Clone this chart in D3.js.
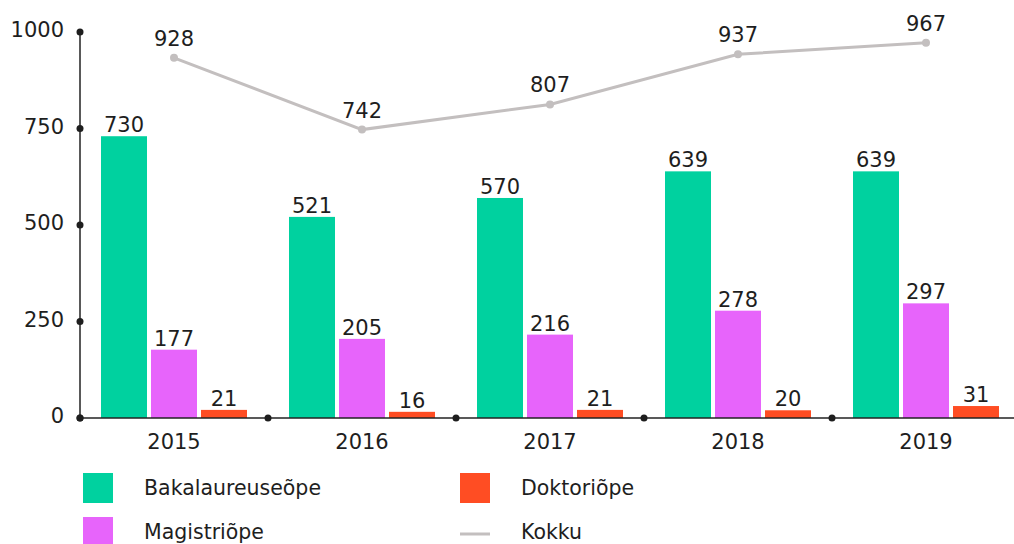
<!DOCTYPE html>
<html>
<head>
<meta charset="utf-8">
<script src="https://cdn.jsdelivr.net/npm/d3@7"></script>
<style>
  body { margin: 0; background: #fff; }
  text { font-family: "DejaVu Sans", sans-serif; fill: #1e1e1e; }
</style>
</head>
<body>
<svg width="1014" height="544"></svg>
<script>
var years = ["2015", "2016", "2017", "2018", "2019"];
var bakalaureus = [730, 521, 570, 639, 639];
var magister = [177, 205, 216, 278, 297];
var doktor = [21, 16, 21, 20, 31];
var kokku = [928, 742, 807, 937, 967];
var yTicks = [0, 250, 500, 750, 1000];

var seriesNames = ["Bakalaureuseõpe", "Magistriõpe", "Doktoriõpe"];
var colors = ["#00d19f", "#e764fb", "#ff4d23"];
var lineColor = "#c3bfbf";

var svg = d3.select("svg");

var x = d3.scaleBand()
  .domain(years)
  .range([80, 1020]);

var inner = d3.scaleBand()
  .domain([0, 1, 2])
  .range([21, x.bandwidth() - 21])
  .paddingInner(0.08);

var y = d3.scaleLinear()
  .domain([0, 1000])
  .range([418, 32]);

var rows = years.map(function (yr, i) {
  return { year: yr, values: [bakalaureus[i], magister[i], doktor[i]] };
});

// bars
var groups = svg.append("g").selectAll("g")
  .data(rows)
  .enter().append("g")
  .attr("transform", function (d) { return "translate(" + x(d.year) + ",0)"; });

groups.selectAll("rect")
  .data(function (d) { return d.values; })
  .enter().append("rect")
  .attr("x", function (d, i) { return inner(i); })
  .attr("y", function (d) { return y(d); })
  .attr("width", inner.bandwidth())
  .attr("height", function (d) { return y(0) - y(d); })
  .attr("fill", function (d, i) { return colors[i]; });

groups.selectAll("text")
  .data(function (d) { return d.values; })
  .enter().append("text")
  .attr("x", function (d, i) { return inner(i) + inner.bandwidth() / 2; })
  .attr("y", function (d) { return y(d) - 4; })
  .attr("text-anchor", "middle")
  .attr("font-size", 21)
  .text(function (d) { return d; });

// axes
var yAxis = svg.append("g");
yAxis.append("line")
  .attr("x1", 80).attr("x2", 80)
  .attr("y1", y(1000)).attr("y2", y(0))
  .attr("stroke", "#222").attr("stroke-width", 1.5);
yAxis.selectAll("circle")
  .data(yTicks)
  .enter().append("circle")
  .attr("cx", 80).attr("cy", function (d) { return y(d); })
  .attr("r", 3.5).attr("fill", "#1e1e1e");
yAxis.selectAll("text")
  .data(yTicks)
  .enter().append("text")
  .attr("x", 64).attr("y", function (d) { return y(d) + 5; })
  .attr("text-anchor", "end")
  .attr("font-size", 21)
  .text(function (d) { return d; });

var xAxis = svg.append("g");
xAxis.append("line")
  .attr("x1", 80).attr("x2", 1014)
  .attr("y1", y(0)).attr("y2", y(0))
  .attr("stroke", "#222").attr("stroke-width", 1.5);
xAxis.selectAll("circle")
  .data(years)
  .enter().append("circle")
  .attr("cx", function (d) { return x(d); }).attr("cy", y(0))
  .attr("r", 3.5).attr("fill", "#1e1e1e");
xAxis.selectAll("text")
  .data(years)
  .enter().append("text")
  .attr("x", function (d) { return x(d) + x.bandwidth() / 2; })
  .attr("y", 449)
  .attr("text-anchor", "middle")
  .attr("font-size", 21)
  .text(function (d) { return d; });

// total line
var cx = function (d, i) { return x(years[i]) + x.bandwidth() / 2; };
var line = d3.line()
  .x(cx)
  .y(function (d) { return y(d) - 2; });

svg.append("path")
  .datum(kokku)
  .attr("d", line)
  .attr("fill", "none")
  .attr("stroke", lineColor)
  .attr("stroke-width", 3);

svg.append("g").selectAll("circle")
  .data(kokku)
  .enter().append("circle")
  .attr("cx", cx)
  .attr("cy", function (d) { return y(d) - 2; })
  .attr("r", 4)
  .attr("fill", lineColor);

svg.append("g").selectAll("text")
  .data(kokku)
  .enter().append("text")
  .attr("x", cx)
  .attr("y", function (d) { return y(d) - 14; })
  .attr("text-anchor", "middle")
  .attr("font-size", 21)
  .text(function (d) { return d; });

// legend
var legendItems = [
  { name: seriesNames[0], color: colors[0], x: 83, y: 473, type: "rect" },
  { name: seriesNames[2], color: colors[2], x: 460, y: 473, type: "rect" },
  { name: seriesNames[1], color: colors[1], x: 83, y: 517, type: "rect" },
  { name: "Kokku", color: lineColor, x: 460, y: 517, type: "line" }
];

var legend = svg.append("g").selectAll("g")
  .data(legendItems)
  .enter().append("g")
  .attr("transform", function (d) { return "translate(" + d.x + "," + d.y + ")"; });

legend.filter(function (d) { return d.type == "rect"; })
  .append("rect")
  .attr("width", 30).attr("height", 30)
  .attr("fill", function (d) { return d.color; });

legend.filter(function (d) { return d.type == "line"; })
  .append("line")
  .attr("x1", 0).attr("x2", 30)
  .attr("y1", 17).attr("y2", 17)
  .attr("stroke", function (d) { return d.color; })
  .attr("stroke-width", 3);

legend.append("text")
  .attr("x", 61).attr("y", 22)
  .attr("font-size", 20.5)
  .text(function (d) { return d.name; });
</script>
</body>
</html>
